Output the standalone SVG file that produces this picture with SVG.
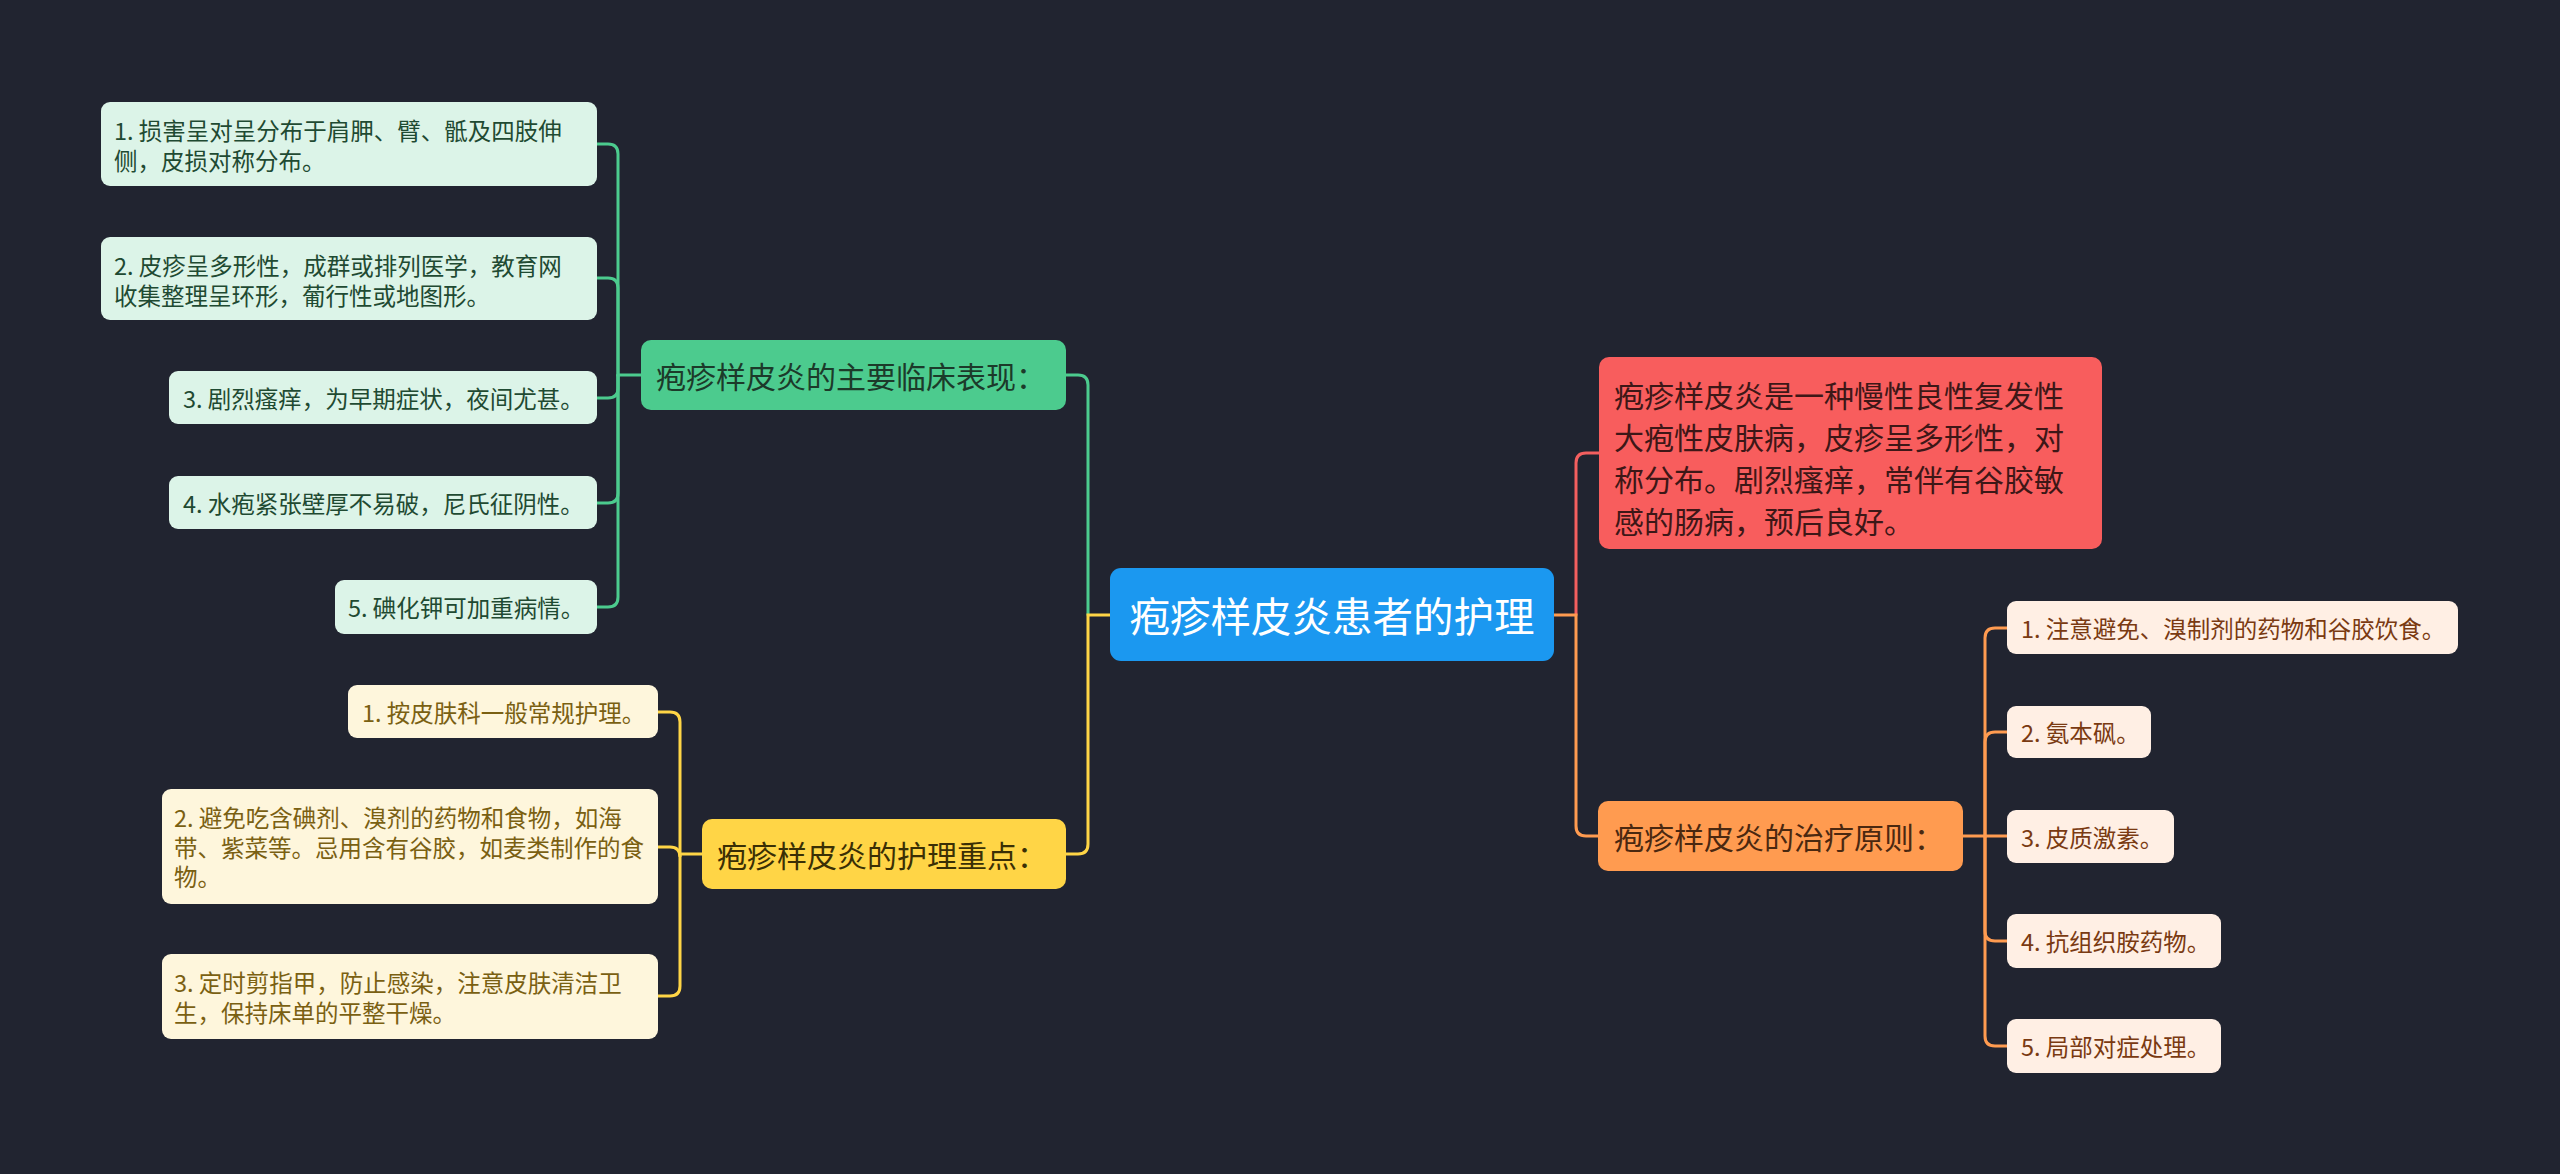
<svg xmlns="http://www.w3.org/2000/svg" width="2560" height="1174" viewBox="0 0 2560 1174">
<style>
text{font-family:"Noto Sans CJK SC","Noto Sans",sans-serif;dominant-baseline:central}
.c{fill:none;stroke-width:3;stroke-linecap:round}
.cg{stroke:#4ccb8e}.cy{stroke:#ffd546}.cr{stroke:#f45f5f}.co{stroke:#ff9b50}
.l1{font-size:30px}
.lf{font-size:23.5px}
.tg{fill:#1f4a32}.ty{fill:#7a6012}.to{fill:#7a3a12}
</style>
<rect x="0" y="0" width="2560" height="1174" fill="#212430"/>
<g id="connectors">
<path class="c cg" d="M1088,615 V385 Q1088,375 1078,375 H1066"/>
<path class="c cy" d="M1110,615 H1088 V844 Q1088,854 1078,854 H1066"/>
<path class="c cr" d="M1576,615 V463 Q1576,453 1586,453 H1599"/>
<path class="c co" d="M1554,615 H1576 V826 Q1576,836 1586,836 H1598"/>
<path class="c cg" d="M641,375 H618 V154 Q618,144 608,144 H597"/>
<path class="c cg" d="M618,375 V288 Q618,278 608,278 H597"/>
<path class="c cg" d="M618,375 V388 Q618,398 608,398 H597"/>
<path class="c cg" d="M618,375 V493 Q618,503 608,503 H597"/>
<path class="c cg" d="M618,375 V597 Q618,607 608,607 H597"/>
<path class="c cy" d="M702,854 H680 V722 Q680,712 670,712 H658"/>
<path class="c cy" d="M680,854 V857 Q680,847 670,847 H658"/>
<path class="c cy" d="M680,854 V986 Q680,996 670,996 H658"/>
<path class="c co" d="M1963,836 H1985 V638 Q1985,628 1995,628 H2007"/>
<path class="c co" d="M1985,836 V742 Q1985,732 1995,732 H2007"/>
<path class="c co" d="M1985,836 H2007"/>
<path class="c co" d="M1985,836 V931 Q1985,941 1995,941 H2007"/>
<path class="c co" d="M1985,836 V1036 Q1985,1046 1995,1046 H2007"/>
</g>
<g id="root">
<rect x="1110" y="568" width="444" height="93" rx="11" fill="#1b98f0"/>
<text x="1332" y="614" font-size="40.5" fill="#ffffff" text-anchor="middle">疱疹样皮炎患者的护理</text>
</g>
<g id="n-clinical">
<rect x="641" y="340" width="425" height="70" rx="10" fill="#4ccb8e"/>
<text class="l1" x="656" y="375" fill="#1c3a2a">疱疹样皮炎的主要临床表现：</text>
</g>
<g id="n-nursing">
<rect x="702" y="819" width="364" height="70" rx="10" fill="#ffd546"/>
<text class="l1" x="717" y="854" fill="#3a2f05">疱疹样皮炎的护理重点：</text>
</g>
<g id="n-definition">
<rect x="1599" y="357" width="503" height="192" rx="10" fill="#f85d5d"/>
<text class="l1" fill="#3d1717"><tspan x="1614" y="394">疱疹样皮炎是一种慢性良性复发性</tspan><tspan x="1614" y="436">大疱性皮肤病，皮疹呈多形性，对</tspan><tspan x="1614" y="478">称分布。剧烈瘙痒，常伴有谷胶敏</tspan><tspan x="1614" y="520">感的肠病，预后良好。</tspan></text>
</g>
<g id="n-treatment">
<rect x="1598" y="801" width="365" height="70" rx="10" fill="#ff9b50"/>
<text class="l1" x="1614" y="836" fill="#4a2810">疱疹样皮炎的治疗原则：</text>
</g>
<g id="g1">
<rect x="101" y="102" width="496" height="84" rx="9" fill="#dcf4e8"/>
<text class="lf tg"><tspan x="114" y="130">1. 损害呈对呈分布于肩胛、臂、骶及四肢伸</tspan><tspan x="114" y="160">侧，皮损对称分布。</tspan></text>
</g>
<g id="g2">
<rect x="101" y="237" width="496" height="83" rx="9" fill="#dcf4e8"/>
<text class="lf tg"><tspan x="114" y="265">2. 皮疹呈多形性，成群或排列医学，教育网</tspan><tspan x="114" y="295">收集整理呈环形，葡行性或地图形。</tspan></text>
</g>
<g id="g3">
<rect x="169" y="371" width="428" height="53" rx="9" fill="#dcf4e8"/>
<text class="lf tg" x="183" y="398">3. 剧烈瘙痒，为早期症状，夜间尤甚。</text>
</g>
<g id="g4">
<rect x="169" y="476" width="428" height="53" rx="9" fill="#dcf4e8"/>
<text class="lf tg" x="183" y="503">4. 水疱紧张壁厚不易破，尼氏征阴性。</text>
</g>
<g id="g5">
<rect x="335" y="580" width="262" height="54" rx="9" fill="#dcf4e8"/>
<text class="lf tg" x="348" y="607">5. 碘化钾可加重病情。</text>
</g>
<g id="y1">
<rect x="348" y="685" width="310" height="53" rx="9" fill="#fef6dc"/>
<text class="lf ty" x="362" y="712">1. 按皮肤科一般常规护理。</text>
</g>
<g id="y2">
<rect x="162" y="789" width="496" height="115" rx="9" fill="#fef6dc"/>
<text class="lf ty"><tspan x="174" y="817">2. 避免吃含碘剂、溴剂的药物和食物，如海</tspan><tspan x="174" y="847">带、紫菜等。忌用含有谷胶，如麦类制作的食</tspan><tspan x="174" y="876">物。</tspan></text>
</g>
<g id="y3">
<rect x="162" y="954" width="496" height="85" rx="9" fill="#fef6dc"/>
<text class="lf ty"><tspan x="174" y="982">3. 定时剪指甲，防止感染，注意皮肤清洁卫</tspan><tspan x="174" y="1012">生，保持床单的平整干燥。</tspan></text>
</g>
<g id="o1">
<rect x="2007" y="601" width="451" height="53" rx="9" fill="#ffefe4"/>
<text class="lf to" x="2021" y="628">1. 注意避免、溴制剂的药物和谷胶饮食。</text>
</g>
<g id="o2">
<rect x="2007" y="706" width="144" height="52" rx="9" fill="#ffefe4"/>
<text class="lf to" x="2021" y="732">2. 氨本砜。</text>
</g>
<g id="o3">
<rect x="2007" y="810" width="167" height="53" rx="9" fill="#ffefe4"/>
<text class="lf to" x="2021" y="837">3. 皮质激素。</text>
</g>
<g id="o4">
<rect x="2007" y="914" width="214" height="54" rx="9" fill="#ffefe4"/>
<text class="lf to" x="2021" y="941">4. 抗组织胺药物。</text>
</g>
<g id="o5">
<rect x="2007" y="1019" width="214" height="54" rx="9" fill="#ffefe4"/>
<text class="lf to" x="2021" y="1046">5. 局部对症处理。</text>
</g>
</svg>
